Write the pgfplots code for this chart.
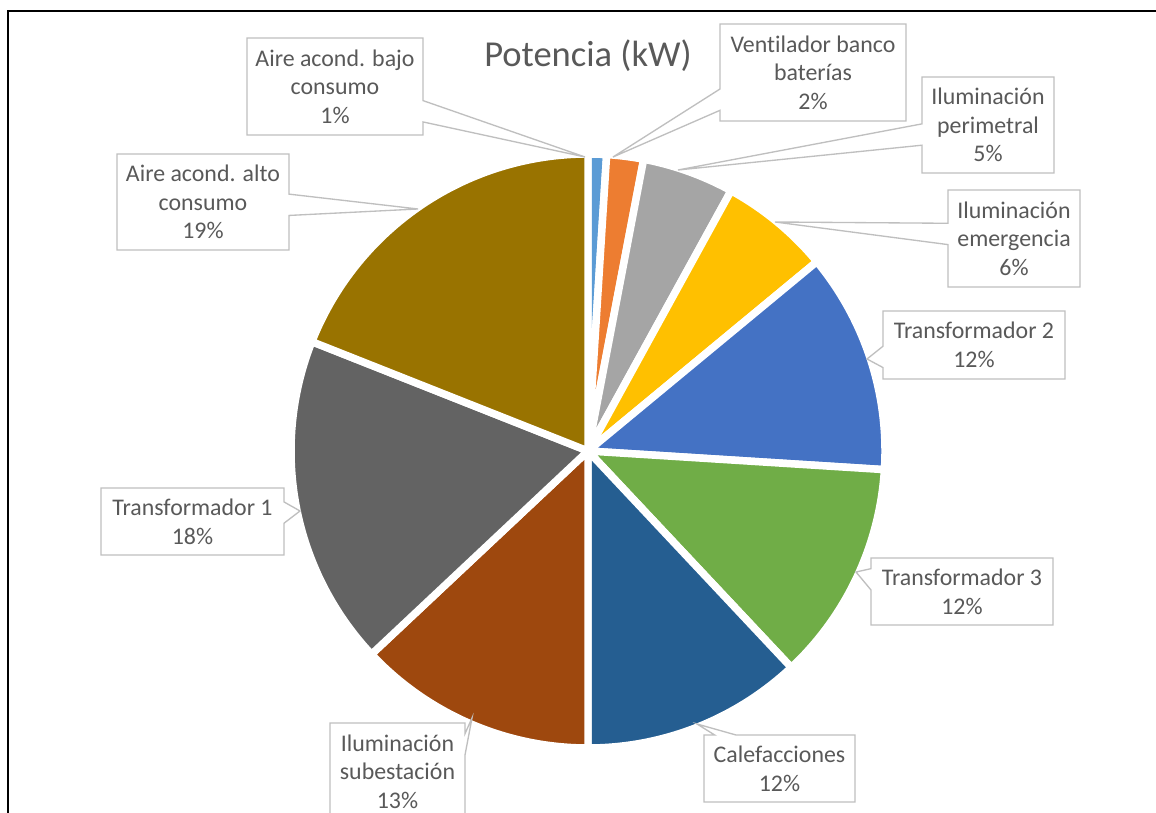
\documentclass[border=0pt]{standalone}
\usepackage{fontspec}
\setmainfont{Carlito}[Ligatures={NoCommon,NoContextual}]
\usepackage{pgfplots}
\usepackage{pgfplotstable}
\pgfplotsset{compat=1.18}
\usetikzlibrary{shapes.callouts}

\definecolor{c0}{HTML}{5B9BD5}
\definecolor{c1}{HTML}{ED7D31}
\definecolor{c2}{HTML}{A5A5A5}
\definecolor{c3}{HTML}{FFC000}
\definecolor{c4}{HTML}{4472C4}
\definecolor{c5}{HTML}{70AD47}
\definecolor{c6}{HTML}{255E91}
\definecolor{c7}{HTML}{9E480E}
\definecolor{c8}{HTML}{636363}
\definecolor{c9}{HTML}{997300}
\definecolor{txtgray}{HTML}{595959}
\definecolor{boxgray}{HTML}{BFBFBF}

% Potencia (kW), share in percent, clockwise from 12 o'clock
\pgfplotstableread{
idx value
0 1
1 2
2 5
3 6
4 12
5 12
6 12
7 13
8 18
9 19
}\piedata

\tikzset{lbl/.style={rectangle callout, draw=boxgray, line width=1pt, fill=white,
  text=txtgray, align=center, font=\fontsize{17.9}{21.5}\selectfont,
  inner sep=0pt, callout pointer width=16pt}}

\begin{document}
\begin{tikzpicture}
\begin{axis}[width=867pt, height=609.75pt, scale only axis,
  xmin=0, xmax=1156, ymin=0, ymax=813, hide axis, clip=false]
\def\cum{0}
\pgfplotsforeachungrouped \i in {0,...,9}{%
  \pgfplotstablegetelem{\i}{value}\of\piedata
  \pgfmathsetmacro\a{\cum*3.6}%
  \pgfmathsetmacro\cum{\cum+\pgfplotsretval}%
  \pgfmathsetmacro\b{\cum*3.6}%
  \edef\cmd{\noexpand\addplot[fill=c\i, draw=white, line width=5.6pt, domain=\a:\b, samples=90] ({588+297*sin(x)}, {362+297*cos(x)}) -- (axis cs:588,362) -- cycle;}%
  \cmd
}

\node[text=txtgray, font=\fontsize{27.4}{33}\selectfont] at (axis cs:588,757) {Potencia (kW)};

\node[lbl, minimum width=132pt, minimum height=72.75pt, callout absolute pointer={(axis cs:585,656)}] at (axis cs:335,726.5) {Aire acond. bajo\\consumo\\1\%};
\node[lbl, minimum width=129pt, minimum height=72pt, callout absolute pointer={(axis cs:418,604)}] at (axis cs:203,611) {Aire acond. alto\\consumo\\19\%};
\node[lbl, minimum width=139.5pt, minimum height=72.75pt, callout absolute pointer={(axis cs:613,656)}] at (axis cs:813,740.5) {Ventilador banco\\baterías\\2\%};
\node[lbl, minimum width=99pt, minimum height=72pt, callout absolute pointer={(axis cs:678,643)}] at (axis cs:988,688) {Iluminación\\perimetral\\5\%};
\node[lbl, minimum width=99pt, minimum height=72.75pt, callout absolute pointer={(axis cs:775,591)}] at (axis cs:1014,574.5) {Iluminación\\emergencia\\6\%};
\node[lbl, minimum width=136.5pt, minimum height=51pt, callout absolute pointer={(axis cs:867,454)}] at (axis cs:974,468) {Transformador 2\\12\%};
\node[lbl, minimum width=136.5pt, minimum height=50.25pt, callout absolute pointer={(axis cs:856,241)}] at (axis cs:962,221.5) {Transformador 3\\12\%};
\node[lbl, minimum width=113.25pt, minimum height=50.25pt, callout absolute pointer={(axis cs:697,89)}] at (axis cs:779.5,44.5) {Calefacciones\\12\%};
\node[lbl, minimum width=101.25pt, minimum height=72.75pt, callout absolute pointer={(axis cs:472,95)}] at (axis cs:397.5,41.5) {Iluminación\\subestación\\13\%};
\node[lbl, minimum width=137.25pt, minimum height=50.25pt, callout absolute pointer={(axis cs:300,302)}] at (axis cs:192.5,291.5) {Transformador 1\\18\%};

\draw[black, line width=1.8pt] (axis cs:8,-10) -- (axis cs:8,802) -- (axis cs:1170,802);
\end{axis}
\pgfresetboundingbox
\useasboundingbox (0,0) rectangle (867pt,609.75pt);
\end{tikzpicture}
\end{document}
